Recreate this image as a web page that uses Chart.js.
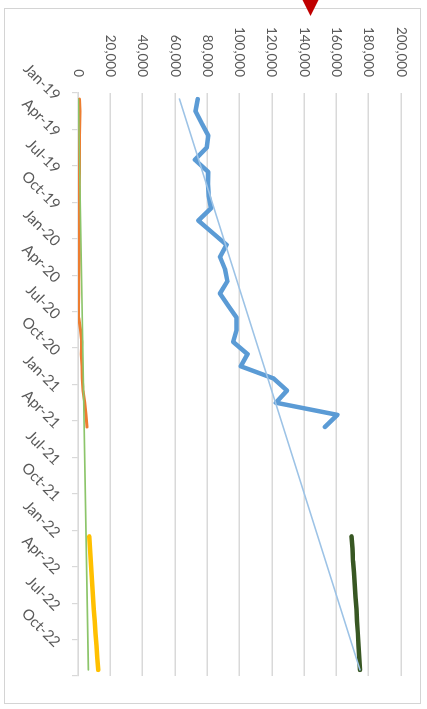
<!DOCTYPE html>
<html>
<head>
<meta charset="utf-8">
<script src="https://cdn.jsdelivr.net/npm/chart.js@4"></script>
<style>
  html, body { margin: 0; padding: 0; background: #ffffff; overflow: hidden; }
  body { width: 427px; height: 709px; position: relative; }
  #frame {
    position: absolute; left: 4px; top: 8px; width: 415px; height: 694px;
    border: 1.5px solid #d4d4d4; box-sizing: content-box;
  }
  /* the chart is laid out landscape and turned a quarter clockwise */
  #wrap {
    position: absolute; left: 0; top: 0; width: 709px; height: 427px;
    transform-origin: 0 0; transform: translate(427px, 0) rotate(90deg);
  }
  #wrap canvas { display: block; }
</style>
</head>
<body>
<div id="frame"></div>
<div id="wrap"><canvas id="c" width="709" height="427" style="width:709px;height:427px"></canvas></div>
<script>
// Months on the date axis (one point per month)
const months = [
  'Jan-19','Feb-19','Mar-19','Apr-19','May-19','Jun-19','Jul-19','Aug-19','Sep-19','Oct-19','Nov-19','Dec-19',
  'Jan-20','Feb-20','Mar-20','Apr-20','May-20','Jun-20','Jul-20','Aug-20','Sep-20','Oct-20','Nov-20','Dec-20',
  'Jan-21','Feb-21','Mar-21','Apr-21','May-21','Jun-21','Jul-21','Aug-21','Sep-21','Oct-21','Nov-21','Dec-21',
  'Jan-22','Feb-22','Mar-22','Apr-22','May-22','Jun-22','Jul-22','Aug-22','Sep-22','Oct-22','Nov-22','Dec-22'
];

// Quarterly tick labels on the date axis
const tickLabels = [
  'Jan-19','Apr-19','Jul-19','Oct-19','Jan-20','Apr-20','Jul-20','Oct-20',
  'Jan-21','Apr-21','Jul-21','Oct-21','Jan-22','Apr-22','Jul-22','Oct-22'
];

// Main series, Jan-19 .. Apr-21
const seriesBlue = [
  74100, 72800, 76600, 80700, 79700, 72400, 80700, 80500, 81000, 82300, 74500, 83200,
  92000, 87900, 91000, 92500, 87900, 93000, 98200, 98200, 96100, 105000, 100800, 121000,
  129400, 122500, 160600, 152900
];
const blueStart = 'Jan-19';

// Second series, Jan-19 .. Apr-21
const seriesOrange = [
  1000, 1300, 1100, 1000, 1000, 900, 900, 800, 800, 900, 800, 800,
  700, 700, 600, 500, 400, 300, 500, 1500, 2300, 2000, 2400, 2700,
  3100, 4200, 5000, 5500
];
const orangeStart = 'Jan-19';

// 2022 series
const seriesYellow = [7000, 7400, 7900, 8400, 8800, 9300, 9800, 10300, 10800, 11400, 11900, 12500];
const yellowStart = 'Jan-22';

const seriesDarkGreen = [169400, 169900, 170300, 170900, 171300, 171800, 172400, 172800, 173300, 173700, 174200, 174600];
const darkGreenStart = 'Jan-22';

// Linear trend lines: value at first and last month
const trendBlue = [62800, 174600];
const trendGreen = [300, 6400];

// Marker on the value axis
const markerValue = 144000;

// value axis ticks
const valueMax = 200000;
const valueStep = 20000;

function toPoints(values, startLabel) {
  const s = months.indexOf(startLabel);
  return values.map((v, i) => ({ x: s + i + 0.5, y: v }));
}
function trendPoints(ends) {
  return [{ x: 0.5, y: ends[0] }, { x: months.length - 0.5, y: ends[1] }];
}

const markerPlugin = {
  id: 'marker',
  afterDraw(chart) {
    const y = chart.scales.y.getPixelForValue(markerValue);
    const ctx = chart.ctx;
    ctx.save();
    ctx.fillStyle = '#c00000';
    ctx.beginPath();
    ctx.moveTo(-4, y - 10);
    ctx.lineTo(16, y);
    ctx.lineTo(-4, y + 10);
    ctx.closePath();
    ctx.fill();
    ctx.restore();
  }
};

const valueFont = { family: 'Lato', size: 13.5 };
const dateFont = { family: 'Lato', size: 15 };
const labelColor = '#595959';
const gridColor = '#d9d9d9';

const lineBase = { pointRadius: 0, tension: 0, borderJoinStyle: 'round', borderCapStyle: 'round', fill: false };

new Chart(document.getElementById('c'), {
  type: 'line',
  data: {
    datasets: [
      Object.assign({}, lineBase, { data: trendPoints(trendBlue), borderColor: '#9dc3e6', borderWidth: 1.6, order: 0 }),
      Object.assign({}, lineBase, { data: trendPoints(trendGreen), borderColor: '#8cc56a', borderWidth: 1.6, order: 0 }),
      Object.assign({}, lineBase, { data: toPoints(seriesBlue, blueStart), borderColor: '#5b9bd5', borderWidth: 4.5, order: 1 }),
      Object.assign({}, lineBase, { data: toPoints(seriesOrange, orangeStart), borderColor: '#ed7d31', borderWidth: 3, order: 1 }),
      Object.assign({}, lineBase, { data: toPoints(seriesYellow, yellowStart), borderColor: '#ffc000', borderWidth: 4.5, order: 1 }),
      Object.assign({}, lineBase, { data: toPoints(seriesDarkGreen, darkGreenStart), borderColor: '#385723', borderWidth: 4.5, order: 1 })
    ]
  },
  options: {
    responsive: false,
    animation: false,
    devicePixelRatio: 1,
    layout: { padding: { left: 8, right: 33, top: 26, bottom: 0 } },
    plugins: { legend: { display: false }, tooltip: { enabled: false } },
    scales: {
      x: {
        type: 'linear',
        min: 0,
        max: months.length,
        afterFit(scale) { scale.height = 78; },
        afterBuildTicks(scale) {
          const t = [];
          for (let i = 0; i <= months.length; i += 3) t.push({ value: i });
          scale.ticks = t;
        },
        ticks: {
          autoSkip: false,
          maxRotation: 45,
          minRotation: 45,
          padding: 8,
          labelOffset: 5,
          color: labelColor,
          font: dateFont,
          callback: (v) => tickLabels[v / 3] || ''
        },
        grid: { drawOnChartArea: false, drawTicks: true, tickLength: 6, color: gridColor, lineWidth: 1.2 },
        border: { display: true, color: gridColor, width: 1.2 }
      },
      y: {
        min: 0,
        max: valueMax,
        afterFit(scale) { scale.width = 85; },
        ticks: {
          stepSize: valueStep,
          padding: 16,
          color: labelColor,
          font: valueFont,
          callback: (v) => v.toLocaleString('en-US')
        },
        grid: { color: gridColor, lineWidth: 1.5, drawTicks: false },
        border: { display: false }
      }
    }
  },
  plugins: [markerPlugin]
});
</script>
</body>
</html>
